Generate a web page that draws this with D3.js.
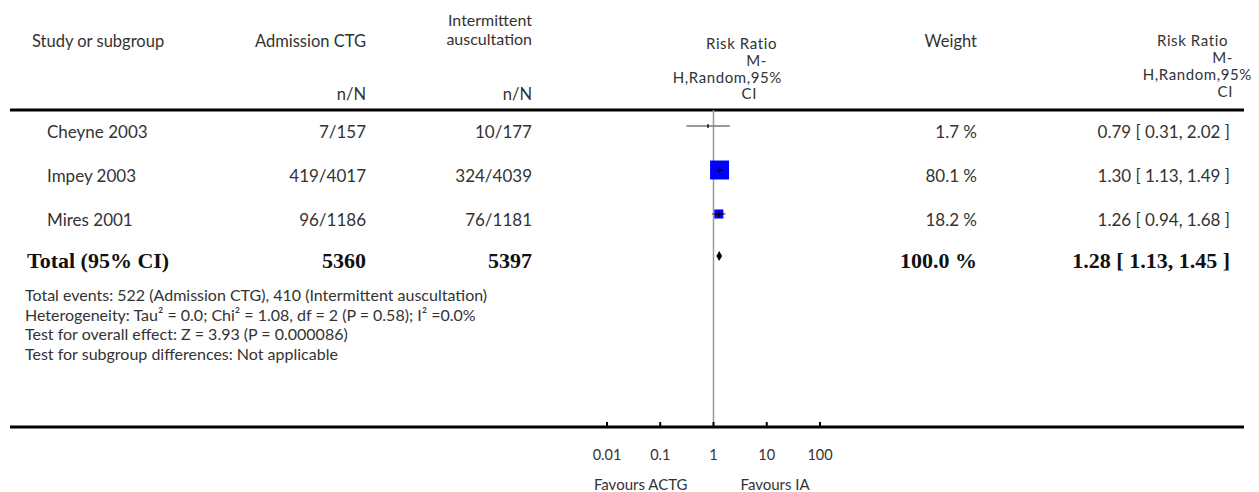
<!DOCTYPE html>
<html>
<head>
<meta charset="utf-8">
<script src="https://cdn.jsdelivr.net/npm/d3@7"></script>
<style>
  body { margin: 0; background: #fff; }
  svg text { font-family: Lato, "Open Sans", sans-serif; fill: #333; }
  svg text.bold { font-family: "Liberation Serif", serif; font-weight: bold; fill: #111; }
</style>
</head>
<body>
<div id="chart"></div>
<script>
/* global d3 */
var studies = ["Cheyne 2003", "Impey 2003", "Mires 2001"];
var ctgCounts = ["7/157", "419/4017", "96/1186"];
var iaCounts = ["10/177", "324/4039", "76/1181"];
var rrValues = [0.79, 1.30, 1.26];
var rrLower = [0.31, 1.13, 0.94];
var rrUpper = [2.02, 1.49, 1.68];
var weights = [1.7, 80.1, 18.2];

var totalLabel = "Total (95% CI)";
var totalCtg = 5360, totalIa = 5397;
var totalRR = 1.28, totalLower = 1.13, totalUpper = 1.45, totalWeight = 100.0;

var footnotes = [
  "Total events: 522 (Admission CTG), 410 (Intermittent auscultation)",
  "Heterogeneity: Tau\u00b2 = 0.0; Chi\u00b2 = 1.08, df = 2 (P = 0.58); I\u00b2 =0.0%",
  "Test for overall effect: Z = 3.93 (P = 0.000086)",
  "Test for subgroup differences: Not applicable"
];

var tickValues = [0.01, 0.1, 1, 10, 100];
var tickLabels = ["0.01", "0.1", "1", "10", "100"];
var favourLeft = "Favours ACTG", favourRight = "Favours IA";

var width = 1259, height = 492;

var svg = d3.select("#chart").append("svg")
  .attr("width", width)
  .attr("height", height);

var x = d3.scaleLog().domain([0.01, 100]).range([607, 820]);
var rowY = d3.scaleLinear().domain([0, 1]).range([126, 170]);
var noteY = d3.scaleLinear().domain([0, 1]).range([301, 320.7]);

var colStudy = 32, colRow = 47, colCtg = 366, colIa = 532, colWeight = 977, colRR = 1230;
var lineTop = 110, lineBottom = 427;

// header
var head = svg.append("g").style("font-size", "16.5px");
head.append("text").attr("x", colStudy).attr("y", 47).text("Study or subgroup");
head.append("text").attr("x", colCtg).attr("y", 47).attr("text-anchor", "end").text("Admission CTG");
head.append("text").attr("x", colCtg).attr("y", 100).attr("text-anchor", "end").text("n/N");
head.append("text").attr("x", colIa).attr("y", 26).attr("text-anchor", "end").style("font-size", "16px").text("Intermittent");
head.append("text").attr("x", colIa).attr("y", 45).attr("text-anchor", "end").style("font-size", "16px").text("auscultation");
head.append("text").attr("x", colIa).attr("y", 100).attr("text-anchor", "end").text("n/N");
head.append("text").attr("x", colWeight).attr("y", 47).attr("text-anchor", "end").text("Weight");

// stacked "Risk Ratio" headers (plot column and numeric column)
var stacked = head.append("g").style("font-size", "15px").style("letter-spacing", "0.6px");
[["Risk Ratio", 777, 49], ["M-", 767, 66], ["H,Random,95%", 782, 83], ["CI", 757, 99],
 ["Risk Ratio", 1228, 46], ["M-", 1233, 63], ["H,Random,95%", 1252, 80], ["CI", 1233, 97]].forEach(function (d) {
  stacked.append("text").attr("x", d[1]).attr("y", d[2]).attr("text-anchor", "end").text(d[0]);
});

// horizontal rules
svg.append("line").attr("x1", 10).attr("x2", 1244).attr("y1", lineTop).attr("y2", lineTop)
  .attr("stroke", "#000").attr("stroke-width", 3);
svg.append("line").attr("x1", 10).attr("x2", 1244).attr("y1", lineBottom).attr("y2", lineBottom)
  .attr("stroke", "#000").attr("stroke-width", 3);

// null line
svg.append("line").attr("x1", x(1)).attr("x2", x(1)).attr("y1", lineTop).attr("y2", lineBottom)
  .attr("stroke", "#999").attr("stroke-width", 1.5);

// study rows
var rows = svg.append("g").style("font-size", "17px");
studies.forEach(function (s, i) {
  var y = rowY(i) + 12;
  rows.append("text").attr("x", colRow).attr("y", y).text(s);
  rows.append("text").attr("x", colCtg).attr("y", y).attr("text-anchor", "end").text(ctgCounts[i]);
  rows.append("text").attr("x", colIa).attr("y", y).attr("text-anchor", "end").text(iaCounts[i]);
  rows.append("text").attr("x", colWeight).attr("y", y).attr("text-anchor", "end").text(weights[i].toFixed(1) + " %");
  rows.append("text").attr("x", colRR).attr("y", y).attr("text-anchor", "end")
    .text(rrValues[i].toFixed(2) + " [ " + rrLower[i].toFixed(2) + ", " + rrUpper[i].toFixed(2) + " ]");
});

// forest marks
var marks = svg.append("g");
studies.forEach(function (s, i) {
  var y = rowY(i);
  var side = 2.12 * Math.sqrt(weights[i]);
  var cx = x(rrValues[i]);
  marks.append("line")
    .attr("x1", x(rrLower[i])).attr("x2", x(rrUpper[i]))
    .attr("y1", y).attr("y2", y)
    .attr("stroke", "#777").attr("stroke-width", 1.6);
  if (side > 4) {
    marks.append("rect")
      .attr("x", cx - side / 2).attr("y", y - side / 2)
      .attr("width", side).attr("height", side)
      .attr("fill", "#0000ff");
    marks.append("line")
      .attr("x1", Math.max(x(rrLower[i]), cx - side / 2))
      .attr("x2", Math.min(x(rrUpper[i]), cx + side / 2))
      .attr("y1", y).attr("y2", y)
      .attr("stroke", "#000").attr("stroke-width", 1.3);
  }
  var tick = side > 4 ? 3 : 2;
  marks.append("line")
    .attr("x1", cx).attr("x2", cx)
    .attr("y1", y - tick).attr("y2", y + tick)
    .attr("stroke", "#000").attr("stroke-width", 1.3);
});

// total row
var ty = rowY(3) - 2;
var tot = svg.append("g").style("font-size", "22px");
tot.append("text").attr("class", "bold").attr("x", 27).attr("y", ty + 12).text(totalLabel);
tot.append("text").attr("class", "bold").attr("x", colCtg).attr("y", ty + 12).attr("text-anchor", "end").text(totalCtg);
tot.append("text").attr("class", "bold").attr("x", colIa).attr("y", ty + 12).attr("text-anchor", "end").text(totalIa);
tot.append("text").attr("class", "bold").attr("x", colWeight).attr("y", ty + 12).attr("text-anchor", "end").text(totalWeight.toFixed(1) + " %");
tot.append("text").attr("class", "bold").attr("x", colRR).attr("y", ty + 12).attr("text-anchor", "end")
  .text(totalRR.toFixed(2) + " [ " + totalLower.toFixed(2) + ", " + totalUpper.toFixed(2) + " ]");

marks.append("path")
  .attr("d", "M" + x(totalLower) + "," + ty + "L" + x(totalRR) + "," + (ty - 5) +
    "L" + x(totalUpper) + "," + ty + "L" + x(totalRR) + "," + (ty + 5) + "Z")
  .attr("fill", "#000");

// footnotes
var notes = svg.append("g").style("font-size", "16px");
footnotes.forEach(function (t, i) {
  notes.append("text").attr("x", 25).attr("y", noteY(i)).text(t);
});

// axis
var axis = svg.append("g").attr("transform", "translate(0," + lineBottom + ")");
axis.selectAll("line.tick").data(tickValues).enter().append("line")
  .attr("class", "tick")
  .attr("x1", function (d) { return x(d); }).attr("x2", function (d) { return x(d); })
  .attr("y1", -5).attr("y2", 0)
  .attr("stroke", "#000").attr("stroke-width", 2);
axis.selectAll("text.tl").data(tickValues).enter().append("text")
  .attr("class", "tl")
  .attr("x", function (d) { return x(d); }).attr("y", 33)
  .attr("text-anchor", "middle")
  .style("font-size", "14.5px")
  .text(function (d, i) { return tickLabels[i]; });
axis.append("text").attr("x", x(1) - 26).attr("y", 63).attr("text-anchor", "end")
  .style("font-size", "15px").text(favourLeft);
axis.append("text").attr("x", x(1) + 27).attr("y", 63).attr("text-anchor", "start")
  .style("font-size", "15px").text(favourRight);
</script>
</body>
</html>
